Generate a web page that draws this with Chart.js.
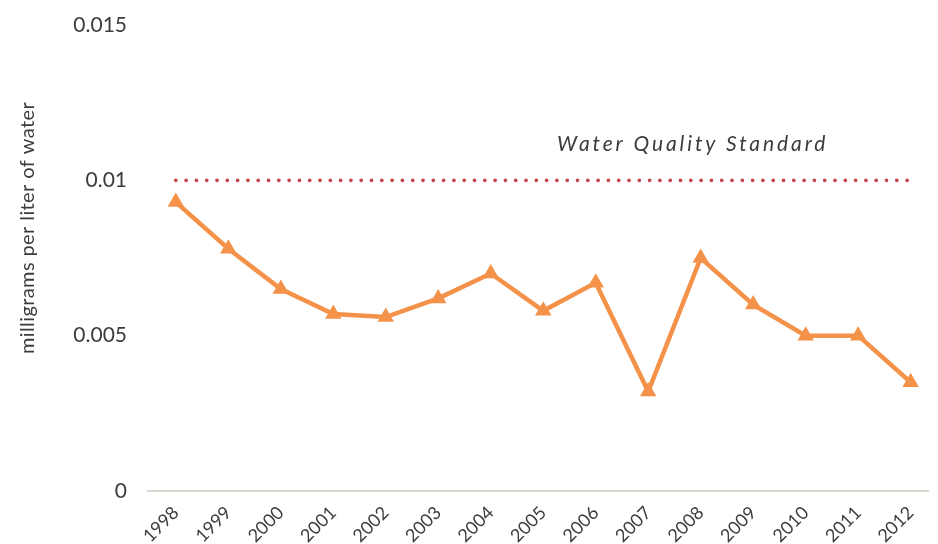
<!DOCTYPE html>
<html>
<head>
<meta charset="utf-8">
<script src="https://cdn.jsdelivr.net/npm/chart.js@4/dist/chart.umd.min.js"></script>
<style>
  html, body { margin: 0; padding: 0; background: #fff; }
  #wrap { width: 938px; height: 544px; }
</style>
</head>
<body>
<div id="wrap"><canvas id="chart"></canvas></div>
<script>
const years = [1998, 1999, 2000, 2001, 2002, 2003, 2004, 2005, 2006, 2007, 2008, 2009, 2010, 2011, 2012];
const concentration = [0.0093, 0.0078, 0.0065, 0.0057, 0.0056, 0.0062, 0.0070, 0.0058, 0.0067, 0.0032, 0.0075, 0.0060, 0.0050, 0.0050, 0.0035];
const standardValue = 0.01;
const standardLabel = 'Water Quality Standard';
const yTicks = [0, 0.005, 0.01, 0.015];
const yTitle = 'milligrams per liter of water';

const FONT = 'Lato, "Open Sans", sans-serif';
const TEXT = '#3c3c3c';

// italic label above the standard line + the rotated y title
const textPlugin = {
    id: 'extraText',
    afterDatasetsDraw(chart) {
        const { ctx, scales } = chart;
        const x = (scales.x.getPixelForValue(2005) + scales.x.getPixelForValue(2011)) / 2 - 8;
        const y = scales.y.getPixelForValue(standardValue) - 36;
        ctx.save();
        ctx.font = 'italic 21px ' + FONT;
        ctx.letterSpacing = '2.9px';
        ctx.fillStyle = TEXT;
        ctx.textAlign = 'center';
        ctx.textBaseline = 'middle';
        ctx.fillText(standardLabel, x, y);
        ctx.letterSpacing = '0.4px';
        ctx.font = '20px ' + FONT;
        ctx.translate(28, 228);
        ctx.rotate(-Math.PI / 2);
        ctx.fillText(yTitle, 0, 0);
        ctx.restore();
    },
};

new Chart(document.getElementById('chart'), {
    type: 'line',
    data: {
        datasets: [
            {
                label: 'Concentration',
                data: years.map((yr, i) => ({ x: yr, y: concentration[i] })),
                borderColor: '#f4924a',
                backgroundColor: '#f4924a',
                borderWidth: 4.5,
                pointStyle: 'triangle',
                pointRadius: 9.5,
                pointBorderWidth: 0,
                tension: 0,
                order: 1,
            },
            {
                label: standardLabel,
                data: years.map(yr => ({ x: yr, y: standardValue })),
                borderColor: '#c4474a',
                borderWidth: 3.8,
                borderDash: [0, 10.3],
                borderCapStyle: 'round',
                pointRadius: 0,
                order: 2,
            },
        ],
    },
    options: {
        responsive: true,
        maintainAspectRatio: false,
        animation: false,
        layout: { padding: { top: 25, right: 0, left: 0, bottom: 0 } },
        plugins: {
            legend: { display: false },
            tooltip: { enabled: false },
        },
        scales: {
            x: {
                type: 'linear',
                min: 1997.47,
                max: 2012.34,
                afterBuildTicks: scale => {
                    scale.ticks = years.map(v => ({ value: v }));
                },
                afterFit: scale => {
                    scale.height = 53;
                    scale.paddingLeft = 0;
                    scale.paddingRight = 0;
                },
                grid: { display: false, drawTicks: false },
                border: { display: true, color: '#dcd6cc', width: 2 },
                ticks: {
                    autoSkip: false,
                    minRotation: 45,
                    maxRotation: 45,
                    padding: 11,
                    color: TEXT,
                    font: { family: FONT, size: 18 },
                    callback: v => String(v),
                },
            },
            y: {
                min: 0,
                max: 0.015,
                afterBuildTicks: scale => {
                    scale.ticks = yTicks.map(v => ({ value: v }));
                },
                afterFit: scale => {
                    scale.width = 148;
                    scale.paddingTop = 0;
                    scale.paddingBottom = 0;
                },
                grid: { display: false, drawTicks: false },
                border: { display: false },
                ticks: {
                    padding: 21,
                    color: TEXT,
                    font: { family: FONT, size: 21 },
                    callback: v => String(+v.toFixed(3)),
                },
            },
        },
    },
    plugins: [textPlugin],
});
</script>
</body>
</html>
